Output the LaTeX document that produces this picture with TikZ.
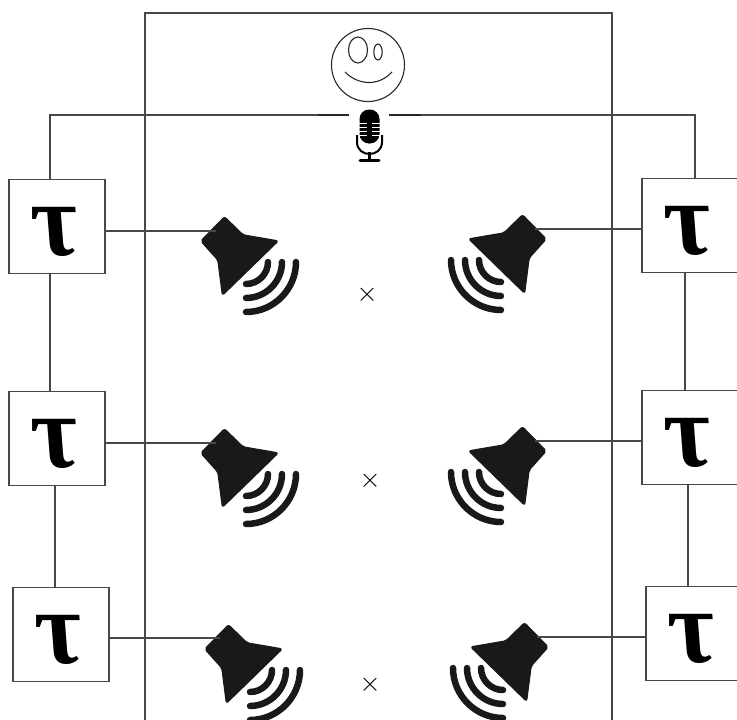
\documentclass[tikz,border=0pt]{standalone}
\usepackage{graphicx}
\usepackage{fontspec}
\newfontfamily\taufont{Liberation Serif}
\tikzset{
  wire/.style={draw=black!72,line width=1.1pt},
  taubox/.style={rectangle,draw=black!72,line width=1.1pt,fill=white,minimum width=96pt,minimum height=94pt,inner sep=0pt},
  taulabel/.style={inner sep=0pt,xshift=-1pt,yshift=-5pt,xslant=-.25,transform shape},
  cone/.style={fill=black!90,draw=black!90,line width=1.5pt,line join=round,rounded corners=2pt},
  wave/.style={draw=black!90,line width=6.5pt,line cap=round},
  face/.style={draw=black!85,line width=1.1pt}
}
\newcommand{\bigtau}{\scalebox{.98}[1]{\taufont\itshape\bfseries\fontsize{105}{105}\selectfont τ}}
\newcommand{\cross}{\scalebox{2.7}{$\times$}}
\newcommand{\spkshape}{%
  \path[cone] (224.5,217) -- (243,235) -- (278,241) -- (222.5,295) -- (218,260) -- (201,241) -- cycle;
  \foreach \r in {22,36,50}{
    \draw[wave] (246,262+\r) .. controls (246+.55*\r,262+\r) and (246+\r,262+.55*\r) .. (246+\r,262);
  }%
}
\begin{document}
\begin{tikzpicture}[x=1pt,y=-1pt]
\useasboundingbox (0,0) rectangle (737,720);
\clip (0,0) rectangle (737,720);
% frame
\coordinate (fbl) at (145,720);
\coordinate (ftl) at (145,13);
\coordinate (ftr) at (612,13);
\coordinate (fbr) at (612,720);
\draw[wire] (fbl) -- (ftl) -- (ftr) -- (fbr);
% speakers
\begin{scope}[shift={(0,0)}]\spkshape\end{scope}
\begin{scope}[shift={(0,212)}]\spkshape\end{scope}
\begin{scope}[shift={(4,408)}]\spkshape\end{scope}
\begin{scope}[shift={(747,-2)},xscale=-1]\spkshape\end{scope}
\begin{scope}[shift={(747,210)},xscale=-1]\spkshape\end{scope}
\begin{scope}[shift={(749,406)},xscale=-1]\spkshape\end{scope}
\coordinate (sl1) at (216,231);
\coordinate (sl2) at (216,443);
\coordinate (sl3) at (220,638);
\coordinate (sr1) at (535,229);
\coordinate (sr2) at (535,441);
\coordinate (sr3) at (537,637);
% boxes
\node[taubox] (l1) at (57,226.5) {};
\node[taubox] (l2) at (57,438.5) {};
\node[taubox] (l3) at (61,634.5) {};
\node[taubox] (r1) at (690,225.5) {};
\node[taubox] (r2) at (690,437.5) {};
\node[taubox] (r3) at (694,633.5) {};
\node[taulabel] (tl1) at (l1) {\bigtau};
\node[taulabel] (tl2) at (l2) {\bigtau};
\node[taulabel] (tl3) at (l3) {\bigtau};
\node[taulabel] (tr1) at (r1) {\bigtau};
\node[taulabel] (tr2) at (r2) {\bigtau};
\node[taulabel] (tr3) at (r3) {\bigtau};
% crosses
\node[inner sep=0pt] (x1) at (367,295) {\cross};
\node[inner sep=0pt] (x2) at (370,481) {\cross};
\node[inner sep=0pt] (x3) at (370,685) {\cross};
% wires
\coordinate (wl) at (50,115);
\coordinate (wr) at (695,115);
\coordinate (ml) at (349,115);
\coordinate (mr) at (389,115);
\coordinate (vl) at (55,0);
\coordinate (vr) at (685,0);
\coordinate (vs) at (688,0);
\draw[wire] (wl |- l1.north) -- (wl) -- (ml);
\draw[wire] (wr |- r1.north) -- (wr) -- (mr);
\draw[line width=1.8pt,black!85] (318,115) -- (ml);
\draw[line width=1.8pt,black!85] (mr) -- (421,115);
\draw[wire] (wl |- l1.south) -- (wl |- l2.north);
\draw[wire] (vl |- l2.south) -- (vl |- l3.north);
\draw[wire] (vr |- r1.south) -- (vr |- r2.north);
\draw[wire] (vs |- r2.south) -- (vs |- r3.north);
\draw[wire] (l1.east |- sl1) -- (sl1);
\draw[wire] (l2.east |- sl2) -- (sl2);
\draw[wire] (l3.east |- sl3) -- (sl3);
\draw[wire] (r1.west |- sr1) -- (sr1);
\draw[wire] (r2.west |- sr2) -- (sr2);
\draw[wire] (r3.west |- sr3) -- (sr3);
% face
\draw[face] (368,65) circle[radius=36.5];
\draw[face] (358,50) ellipse[x radius=9.5,y radius=13];
\draw[face] (378,52) ellipse[x radius=4.2,y radius=8];
\draw[face] (345,72) .. controls (358,85) and (378,87) .. (392,72);
% microphone
\fill[black,rounded corners=9.5pt] (359.5,109.5) rectangle (379.5,143.5);
\foreach \yy in {123,127,131,135}{
  \draw[white,line width=1pt] (359,\yy) -- (367,\yy);
  \draw[white,line width=1pt] (372,\yy) -- (380,\yy);
}
\draw[black,line width=2pt] (357,135) -- (357,142) .. controls (357,158) and (382,158) .. (382,142) -- (382,135);
\draw[black,line width=3pt] (369.5,152) -- (369.5,160);
\draw[black,line width=3pt,line cap=round] (360,160.5) -- (379,160.5);
\end{tikzpicture}
\end{document}
